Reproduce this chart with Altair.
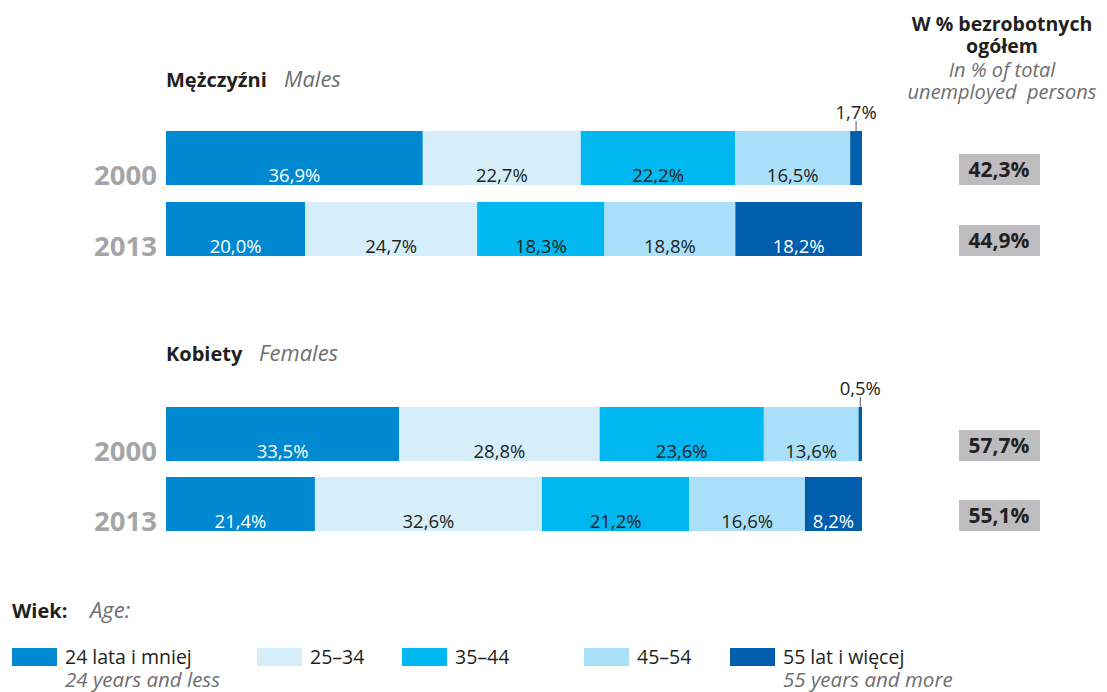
import altair as alt
import pandas as pd

# ---------------- data ----------------
groups = ["24 lata i mniej", "25–34", "35–44", "45–54", "55 lat i więcej"]
groups_en = ["24 years and less", "", "", "", "55 years and more"]
colors = ["#0089D0", "#D5EEFA", "#00B7EF", "#A9DFF8", "#005EAD"]
label_colors = ["white", "#231F20", "#231F20", "#231F20", "white"]

years = ["2000", "2013"]
males = {"2000": [36.9, 22.7, 22.2, 16.5, 1.7], "2013": [20.0, 24.7, 18.3, 18.8, 18.2]}
females = {"2000": [33.5, 28.8, 23.6, 13.6, 0.5], "2013": [21.4, 32.6, 21.2, 16.6, 8.2]}
share_males = {"2000": 42.3, "2013": 44.9}
share_females = {"2000": 57.7, "2013": 55.1}

FONT = "Open Sans"

# ---------------- layout (canvas px) ----------------
W, H = 1091, 684
OFF = 8
X0, X100 = 166 - OFF, 862 - OFF
ppu = (X100 - X0) / 100.0
xmin = -X0 / ppu
xmax = (W - X0) / ppu
BAR_H = 54
row_tops = {("M", "2000"): 131 - OFF, ("M", "2013"): 202 - OFF,
            ("F", "2000"): 407 - OFF, ("F", "2013"): 477 - OFF}

def fmt(v):
    return f"{v:.1f}".replace(".", ",") + "%"

rows = []
for sex, d in (("M", males), ("F", females)):
    for yr in years:
        start = 0.0
        for i, g in enumerate(groups):
            v = d[yr][i]
            top = row_tops[(sex, yr)]
            rows.append(dict(sex=sex, year=yr, group=g, value=v, start=start, end=start + v,
                             mid=start + v / 2, top=top, bot=top + BAR_H,
                             label=fmt(v), lcolor=label_colors[i], small=v < 3))
            start += v
bars = pd.DataFrame(rows)

color_scale = alt.Scale(domain=groups, range=colors)
xs = alt.Scale(domain=[xmin, xmax], nice=False, zero=False)
ys = alt.Scale(domain=[0, H], range=[0, H], nice=False, zero=False)

bar_layer = alt.Chart(bars).mark_rect().encode(
    x=alt.X("start:Q", scale=xs, axis=None),
    x2="end:Q",
    y=alt.Y("top:Q", scale=ys, axis=None),
    y2="bot:Q",
    color=alt.Color("group:N", scale=color_scale, legend=None),
)

inside = bars[~bars["small"]].copy()
inside["ty"] = inside["bot"] - 3
in_text = alt.Chart(inside).mark_text(font=FONT, fontSize=18.5, baseline="alphabetic", align="center").encode(
    x=alt.X("mid:Q", scale=xs),
    y=alt.Y("ty:Q", scale=ys),
    text="label:N",
    color=alt.Color("lcolor:N", scale=None),
)

small = bars[bars["small"]].copy()
small["ty"] = small["top"] - 12
small["t1"] = small["top"] - 10
small["tx"] = small["mid"]
out_text = alt.Chart(small).mark_text(font=FONT, fontSize=18.5, baseline="alphabetic", align="center", color="#231F20").encode(
    x=alt.X("tx:Q", scale=xs),
    y=alt.Y("ty:Q", scale=ys),
    text="label:N",
)
out_tick = alt.Chart(small).mark_rule(color="#555555", strokeWidth=1).encode(
    x=alt.X("tx:Q", scale=xs),
    y=alt.Y("t1:Q", scale=ys),
    y2="top:Q",
)

# year labels
yl = pd.DataFrame([dict(text=yr, px=157 - OFF, py=row_tops[(s, yr)] + BAR_H) for s in ("M", "F") for yr in years])
year_text = alt.Chart(yl).mark_text(font=FONT, fontSize=27.5, fontWeight="bold", color="#A5A5A7",
                                    align="right", baseline="alphabetic").encode(
    x=alt.X("px:Q", scale=None), y=alt.Y("py:Q", scale=None), text="text:N")

# share boxes
sb = []
for s, d in (("M", share_males), ("F", share_females)):
    for yr in years:
        top = row_tops[(s, yr)]
        sb.append(dict(text=fmt(d[yr]), x1=959 - OFF, x2=1040 - OFF, y1=top + 23, y2=top + BAR_H,
                       cx=999 - OFF, cy=top + BAR_H - 8))
sbd = pd.DataFrame(sb)
box_rect = alt.Chart(sbd).mark_rect(color="#BDBDBF").encode(
    x=alt.X("x1:Q", scale=None), x2="x2:Q", y=alt.Y("y1:Q", scale=None), y2="y2:Q")
box_text = alt.Chart(sbd).mark_text(font=FONT, fontSize=21, fontWeight="bold", color="#231F20",
                                    align="center", baseline="alphabetic").encode(
    x=alt.X("cx:Q", scale=None), y=alt.Y("cy:Q", scale=None), text="text:N")

# plain texts: (text, x, y, weight, style, color, size, align)
texts = [
    ("Mężczyźni", 166, 87, "bold", "normal", "#231F20", 20, "left"),
    ("Males", 284, 87, "normal", "italic", "#6D6E70", 22, "left"),
    ("Kobiety", 166, 361, "bold", "normal", "#231F20", 20, "left"),
    ("Females", 259, 361, "normal", "italic", "#6D6E70", 22, "left"),
    ("W % bezrobotnych", 1002, 31, "bold", "normal", "#231F20", 19.5, "center"),
    ("ogółem", 1002, 53, "bold", "normal", "#231F20", 19.5, "center"),
    ("In % of total", 1002, 77, "normal", "italic", "#6D6E70", 20, "center"),
    ("unemployed\u00a0\u00a0persons", 1002, 99, "normal", "italic", "#6D6E70", 20, "center"),
    ("Wiek:", 12, 618, "bold", "normal", "#231F20", 20, "left"),
    ("Age:", 90, 618, "normal", "italic", "#6D6E70", 22, "left"),
]
td = pd.DataFrame([dict(text=t, px=x - OFF, py=y - OFF, w=w, st=st, c=c, sz=sz, al=al)
                   for t, x, y, w, st, c, sz, al in texts])
text_layers = []
for (w, st, sz, al), sub in td.groupby(["w", "st", "sz", "al"]):
    text_layers.append(alt.Chart(sub).mark_text(font=FONT, fontSize=float(sz), fontWeight=w, fontStyle=st,
                                                align=al, baseline="alphabetic").encode(
        x=alt.X("px:Q", scale=None), y=alt.Y("py:Q", scale=None), text="text:N",
        color=alt.Color("c:N", scale=None)))

# legend
sw_x = [12, 257, 402, 584, 730]
lg = pd.DataFrame([dict(group=g, en=groups_en[i], x1=sw_x[i] - OFF, x2=sw_x[i] + 45 - OFF, y1=648 - OFF, y2=666 - OFF,
                        tx=sw_x[i] + 53 - OFF, ty=664 - OFF, ey=687 - OFF) for i, g in enumerate(groups)])
lg_rect = alt.Chart(lg).mark_rect().encode(
    x=alt.X("x1:Q", scale=None), x2="x2:Q", y=alt.Y("y1:Q", scale=None), y2="y2:Q",
    color=alt.Color("group:N", scale=color_scale, legend=None))
lg_text = alt.Chart(lg).mark_text(font=FONT, fontSize=19.5, align="left", baseline="alphabetic", color="#231F20").encode(
    x=alt.X("tx:Q", scale=None), y=alt.Y("ty:Q", scale=None), text="group:N")
lg_en = alt.Chart(lg).mark_text(font=FONT, fontSize=20.5, fontStyle="italic", align="left", baseline="alphabetic",
                                color="#6D6E70").encode(
    x=alt.X("tx:Q", scale=None), y=alt.Y("ey:Q", scale=None), text="en:N")

chart = alt.layer(
    bar_layer, in_text, out_tick, out_text, year_text, box_rect, box_text,
    *text_layers, lg_rect, lg_text, lg_en
).properties(
    width=W, height=H, autosize=alt.AutoSizeParams(type="none"), padding=0
).configure_view(stroke=None)

chart.save("out.html", embed_options={"renderer": "svg", "actions": False})
